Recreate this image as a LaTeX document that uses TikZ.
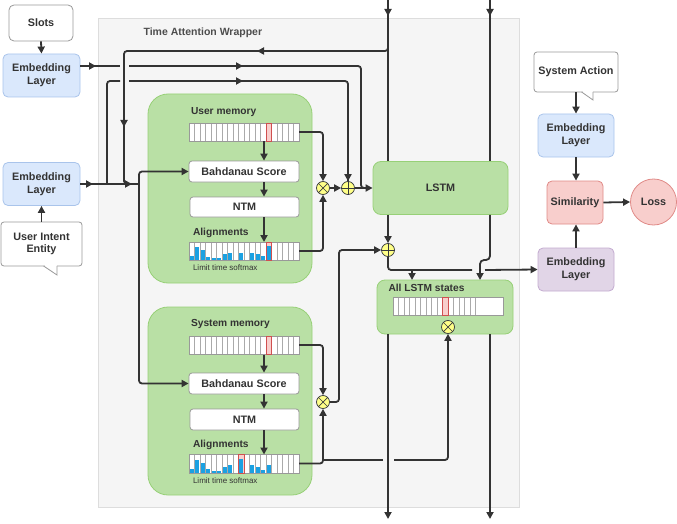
\documentclass[tikz,border=0pt]{standalone}
\usepackage{fontspec}
\setmainfont{Liberation Sans}
\usetikzlibrary{arrows.meta,calc}
\definecolor{lc}{HTML}{333333}
\definecolor{txt}{HTML}{333333}
\definecolor{bluef}{HTML}{DAE8FC}
\definecolor{blued}{HTML}{A9C4EB}
\definecolor{greenf}{HTML}{B9E0A5}
\definecolor{greend}{HTML}{97D077}
\definecolor{pinkf}{HTML}{F8CECC}
\definecolor{pinkd}{HTML}{E08A87}
\definecolor{purf}{HTML}{E1D5E7}
\definecolor{purd}{HTML}{C3ABD0}
\definecolor{wrapf}{HTML}{F5F5F5}
\definecolor{wrapd}{HTML}{DDDDDD}
\definecolor{wraptxt}{HTML}{4D4D4D}
\definecolor{grayd}{HTML}{999999}
\definecolor{yelf}{HTML}{FFFF88}
\definecolor{yeld}{HTML}{36393D}
\definecolor{bluebar}{HTML}{1BA1E2}
\definecolor{redd}{HTML}{D05050}
\definecolor{cellg}{HTML}{AAAAAA}

\newcommand\membg[3]{% x0, ytop, red index
  \fill[white] (#1,#2) rectangle ++(110,18.5);
  \fill[pinkf] ({#1+#3*5.5},#2) rectangle ++(5.5,18.5);
}
\newcommand\memcells[4]{% x0, ytop, number of inner lines, red index
  \foreach \i in {1,...,#3} {\draw[cellline] ({#1+\i*5.5},#2) -- ++(0,18.5);}
  \draw[barbord] (#1,#2) rectangle ++(110,18.5);
  \draw[redcell] ({#1+#4*5.5},#2) rectangle ++(5.5,18.5);
}
\newcommand\bluebars[3]{% x0, ybottom, list i/h
  \foreach \i/\h in {#3} {\fill[bluebar] ({#1+\i*5.5+0.9},#2) rectangle ++(3.9,{-18*\h});}
}

\begin{document}
\begin{tikzpicture}[x=1pt,y=-1pt,
 lbl/.style={font=\bfseries\fontsize{10.8}{12.8}\selectfont, text=txt, align=center},
 box/.style={lbl, rectangle, rounded corners=5pt, line width=0.8pt, inner sep=0pt},
 emb/.style={box, fill=bluef, draw=blued, minimum width=77pt, minimum height=43pt},
 plainbox/.style={box, fill=white, draw=grayd},
 grn/.style={box, fill=greenf, draw=greend},
 small/.style={font=\bfseries\fontsize{10.2}{12}\selectfont, text=txt},
 ln/.style={draw=lc, line width=1.8pt, rounded corners=3pt},
 arr/.style={ln, -{Triangle[length=7pt,width=7pt]}},
 op/.style={circle, fill=yelf, draw=yeld, line width=0.7pt, minimum size=13pt, inner sep=0pt},
 oplines/.style={draw=yeld, line width=0.7pt},
 cellline/.style={draw=cellg, line width=0.6pt},
 barbord/.style={draw=grayd, line width=0.8pt},
 redcell/.style={draw=redd, line width=0.8pt},
]
\useasboundingbox (0,0) rectangle (677,524);

% ---------- wrapper ----------
\node[draw=wrapd, fill=wrapf, line width=0.8pt, minimum width=421pt, minimum height=489pt, inner sep=0pt] (wrap) at (308.5,262.5) {};
\node[anchor=west, font=\bfseries\fontsize{10.5}{12.5}\selectfont, text=wraptxt] (wraplbl) at (140,33) {Time Attention Wrapper};

% ---------- left inputs ----------
\node[plainbox, minimum width=64pt, minimum height=36pt] (slots) at (41,23) {Slots};
\node[emb] (el1) at (41.5,75.5) {Embedding\\Layer};
\node[emb] (el2) at (41.5,184) {Embedding\\Layer};
\node[plainbox, rounded corners=3pt, minimum width=81pt, minimum height=44pt] (uie) at (41.5,244) {User Intent\\Entity};
\fill[white] (44.5,264.5) rectangle (56.6,267.2);
\fill[white] (44,266) -- (57,275) -- (57,266) -- cycle;
\draw[grayd, line width=0.8pt] (43.6,266) -- (57,275) -- (57,265.8);

% ---------- right side ----------
\node[plainbox, rounded corners=3pt, minimum width=84pt, minimum height=40pt] (sa) at (576,72) {System Action};
\fill[white] (582.5,90.5) rectangle (592.6,93.2);
\fill[white] (582,92) -- (593,100) -- (593,92) -- cycle;
\draw[grayd, line width=0.8pt] (581.6,92) -- (593,100) -- (593,91.8);
\node[emb, minimum width=76pt] (el3) at (576,135.5) {Embedding\\Layer};
\node[box, fill=pinkf, draw=pinkd, minimum width=56pt, minimum height=43pt] (sim) at (575,202.5) {Similarity};
\node[lbl, circle, fill=pinkf, draw=pinkd, line width=0.8pt, minimum size=46pt, inner sep=0pt] (loss) at (653.5,202) {Loss};
\node[box, fill=purf, draw=purd, minimum width=76pt, minimum height=43pt] (el4) at (576,269.5) {Embedding\\Layer};

\draw[arr] (slots.south) -- (el1.north);
\draw[arr] (uie.north) -- (el2.south);
\draw[arr] (sa.south) -- (el3.north);
\draw[arr] (el3.south) -- (el3.south |- sim.north);
\draw[arr] (el4.north) -- (el4.north |- sim.south);
\draw[arr] (sim.east) -- (loss.west);

% ---------- user memory block ----------
\node[grn, rounded corners=20pt, minimum width=164pt, minimum height=189pt] (um) at (230,188.5) {};
\node[small, anchor=west] (umlbl) at (187.5,112) {User memory};
\node[plainbox, rounded corners=3pt, minimum width=110pt, minimum height=21pt] (bu) at (244,171.5) {Bahdanau Score};
\node[plainbox, rounded corners=3pt, minimum width=109pt, minimum height=20pt] (nu) at (244.5,207) {NTM};
\node[small, anchor=west] (ualbl) at (189.5,233) {Alignments};
\node[anchor=west, font=\fontsize{8}{9}\selectfont, text=txt] (ulim) at (189.5,268) {Limit time softmax};
\membg{189}{123}{14}
\memcells{189}{123}{19}{14}
\membg{189}{242}{14}
\bluebars{189}{260.5}{0/0.23,1/0.75,2/0.6,3/0.19,4/0.15,5/0.15,6/0.34,7/0.42,9/0.42,11/0.42,12/0.38,13/0.26,14/0.79}
\memcells{189}{242}{19}{14}
\coordinate (umbar) at (264,141.5);
\coordinate (uabar) at (264,242);
\draw[arr] (umbar) -- (umbar |- bu.north);
\draw[arr] (bu.south -| umbar) -- (umbar |- nu.north);
\draw[arr] (nu.south -| umbar) -- (uabar);

% ---------- system memory block ----------
\node[grn, rounded corners=20pt, minimum width=164pt, minimum height=188pt] (sm) at (230,401) {};
\node[small, anchor=west] (smlbl) at (187.5,324) {System memory};
\node[plainbox, rounded corners=3pt, minimum width=110pt, minimum height=21pt] (bs) at (244,383.5) {Bahdanau Score};
\node[plainbox, rounded corners=3pt, minimum width=109pt, minimum height=21pt] (ns) at (244.5,419.5) {NTM};
\node[small, anchor=west] (salbl) at (189.5,445) {Alignments};
\node[anchor=west, font=\fontsize{8}{9}\selectfont, text=txt] (slim) at (189.5,480.5) {Limit time softmax};
\membg{189}{336}{14}
\memcells{189}{336}{19}{14}
\membg{189}{454.5}{9}
\bluebars{189}{473}{0/0.23,1/0.75,2/0.58,3/0.23,4/0.13,5/0.13,6/0.33,7/0.42,9/0.77,11/0.42,12/0.33,13/0.17,14/0.42}
\memcells{189}{454.5}{19}{9}
\coordinate (smbar) at (264,354.5);
\coordinate (sabar) at (264,454.5);
\draw[arr] (smbar) -- (smbar |- bs.north);
\draw[arr] (bs.south -| smbar) -- (smbar |- ns.north);
\draw[arr] (ns.south -| smbar) -- (sabar);

% ---------- LSTM blocks ----------
\node[grn, rounded corners=8pt, minimum width=135pt, minimum height=53pt] (lstm) at (440.5,188) {LSTM};
\node[grn, rounded corners=8pt, minimum width=136pt, minimum height=54pt] (all) at (445,307) {};
\node[small, anchor=west] (alllbl) at (385,288) {All LSTM states};
\membg{393}{297}{9}
\memcells{393}{297}{15}{9}

% ---------- operators ----------
\node[op] (mulU) at (323,188) {};
\node[op] (plusU) at (348,188) {};
\node[op] (mulS) at (323,402) {};
\node[op] (plus2) at (388,250) {};
\node[op] (mul3) at (448,327) {};
\foreach \n in {mulU,mulS,mul3} {
  \draw[oplines] (\n.north west) -- (\n.south east);
  \draw[oplines] (\n.north east) -- (\n.south west);
}
\foreach \n in {plusU,plus2} {
  \draw[oplines] (\n.north) -- (\n.south);
  \draw[oplines] (\n.west) -- (\n.east);
}

% ---------- coordinates ----------
\coordinate (tA) at (388,0);
\coordinate (tB) at (490,0);
\coordinate (y66) at (0,66);
\coordinate (j1) at (139,184);

% top inputs into LSTM
\draw[ln] (tA) -- (lstm.north -| tA);
\draw[arr] (tA) -- (388,16);
\draw[ln] (tB) -- (lstm.north -| tB);
\draw[arr] (tB) -- (490,16);

% feedback from top to Bahdanau query
\draw[ln] (388,40) -- (388,51) -- (124,51) -- (124,184) -- (131,184);
\draw[arr] (272,51) -- (257,51);
\draw[arr] (124,110) -- (124,127);
\draw[arr] (124,184) -- (132,184);

% user embedding line
\draw[arr] (el2.east) -- (93,184);
\draw[ln] (90,184) -- (j1);
\draw[arr] (j1) |- (bu.west);
\draw[arr] (j1) |- (bs.west);

% user embedding -> plusU
\draw[ln] (107,184) -- (107,81) -- (120,81);
\draw[ln] (129,81) -- (348,81) -- (plusU.north);
\draw[arr] (348,170) -- (plusU.north);
\draw[arr] (225,81) -- (243,81);

% slot embedding -> LSTM
\draw[arr] (el1.east |- y66) -- (96,66);
\draw[ln] (93,66) -- (120,66);
\draw[ln] (129,66) -- (361,66) -- (361,188) -- (367,188);
\draw[arr] (225,66) -- (243,66);

% user attention
\draw[arr] (299,132) -| (mulU.north);
\draw[arr] (299,251) -| (mulU.south);
\draw[arr] (mulU.east) -- (plusU.west);
\draw[arr] (plusU.east) -- (lstm.west |- plusU);

% system attention
\draw[arr] (299,345) -| (mulS.north);
\draw[arr] (299,463.5) -| (mulS.south);
\draw[arr] (mulS.east) -- (339,402) -- (339,250) -- (plus2.west);
\draw[ln] (323,460) -- (383,460);
\draw[arr] (394,460) -- (448,460) -- (mul3.south);

% LSTM outputs
\draw[arr] (lstm.south -| plus2) -- (plus2.north);
\draw[ln] (plus2.south) -- (388,270) -- (472,270);
\draw[arr] (485,270) -- (el4.west);
\draw[arr] (412,270) -- (412,280);
\draw[arr, rounded corners=4pt] (lstm.south -| tB) -- (490,260) -- (480,260) -- (480,280);

% outputs at bottom
\draw[arr] (all.south -| tA) -- (388,519);
\draw[arr] (all.south -| tB) -- (490,519);

\end{tikzpicture}
\end{document}
